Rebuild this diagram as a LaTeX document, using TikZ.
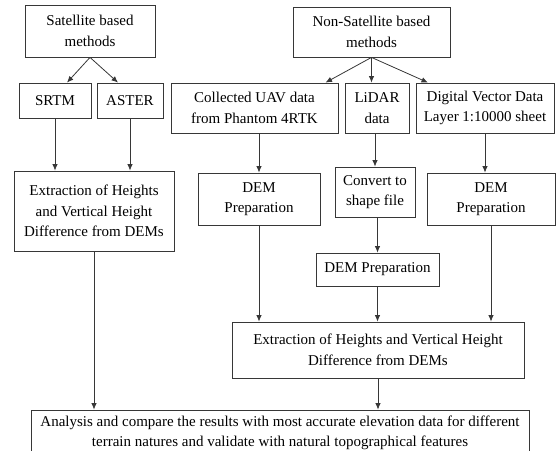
\documentclass[tikz,border=0pt]{standalone}
\usepackage{fontspec}
\setmainfont{Liberation Serif}
\usetikzlibrary{arrows.meta, calc}
\definecolor{linegray}{RGB}{55,55,55}
\tikzset{
    caixa/.style={draw=linegray, line width=0.8pt, align=center, inner sep=0pt,
        font=\fontsize{15}{20.5}\selectfont},
    seta/.style={draw=linegray, line width=0.8pt, -{Latex[length=6.5pt,width=5.5pt]}}
}

\begin{document}
\begin{tikzpicture}[x=1pt, y=-1pt]
    \useasboundingbox (0,0) rectangle (556,450);
    \clip (0,0) rectangle (556,450);
    % Satellite branch
    \node[caixa, minimum width=130pt, minimum height=52pt] (sat) at (90,31) {Satellite based\\methods};
    \node[caixa, minimum width=72pt, minimum height=35pt] (srtm) at (55,100.5) {SRTM};
    \node[caixa, minimum width=66pt, minimum height=35pt] (aster) at (130,100.5) {ASTER};
    \node[caixa, minimum width=160pt, minimum height=80pt] (extL) at (94,211) {Extraction of Heights\\and Vertical Height\\Difference from DEMs};
    % Non-satellite branch
    \node[caixa, minimum width=157pt, minimum height=50pt] (nonsat) at (371.5,32) {Non-Satellite based\\methods};
    \node[caixa, minimum width=167pt, minimum height=50pt] (uav) at (254.5,108) {Collected UAV data\\from Phantom 4RTK};
    \node[caixa, minimum width=64pt, minimum height=50pt] (lidar) at (377,108) {LiDAR\\data};
    \node[caixa, minimum width=138pt, minimum height=50pt] (dvd) at (485,108) {Digital Vector Data\\Layer 1:10000 sheet};
    \node[caixa, minimum width=122pt, minimum height=52pt] (demA) at (259,199) {DEM\\Preparation};
    \node[caixa, minimum width=80pt, minimum height=50pt] (conv) at (375,192) {Convert to\\shape file};
    \node[caixa, minimum width=128pt, minimum height=52pt] (demB) at (491,199) {DEM\\Preparation};
    \node[caixa, minimum width=123pt, minimum height=33pt] (demC) at (377.5,269.5) {DEM Preparation};
    \node[caixa, minimum width=292pt, minimum height=56pt] (extR) at (378,350) {Extraction of Heights and Vertical Height\\Difference from DEMs};
    % Final analysis
    \node[caixa, minimum width=498pt, minimum height=46pt] (ana) at (280,433) {Analysis and compare the results with most accurate elevation data for different\\terrain natures and validate with natural topographical features};
    % Arrows
    \draw[seta] (sat.south) -- ($(srtm.north)+(12,0)$);
    \draw[seta] (sat.south) -- ($(aster.north)+(-12,0)$);
    \draw[seta] (srtm.south) -- (srtm.south |- extL.north);
    \draw[seta] (aster.south) -- (aster.south |- extL.north);
    \draw[seta] (nonsat.south) -- ($(uav.north)+(71,0)$);
    \draw[seta] (nonsat.south) -- (nonsat.south |- lidar.north);
    \draw[seta] (nonsat.south) -- ($(dvd.north)+(-57,0)$);
    \draw[seta] (demA.north |- uav.south) -- (demA.north);
    \draw[seta] (conv.north |- lidar.south) -- (conv.north);
    \draw[seta] (dvd.south) -- (dvd.south |- demB.north);
    \draw[seta] (demC.north |- conv.south) -- (demC.north);
    \draw[seta] (demA.south) -- (demA.south |- extR.north);
    \draw[seta] (demC.south) -- (demC.south |- extR.north);
    \draw[seta] (demB.south) -- (demB.south |- extR.north);
    \draw[seta] (extL.south) -- (extL.south |- ana.north);
    \draw[seta] (extR.south) -- (extR.south |- ana.north);
\end{tikzpicture}
\end{document}
